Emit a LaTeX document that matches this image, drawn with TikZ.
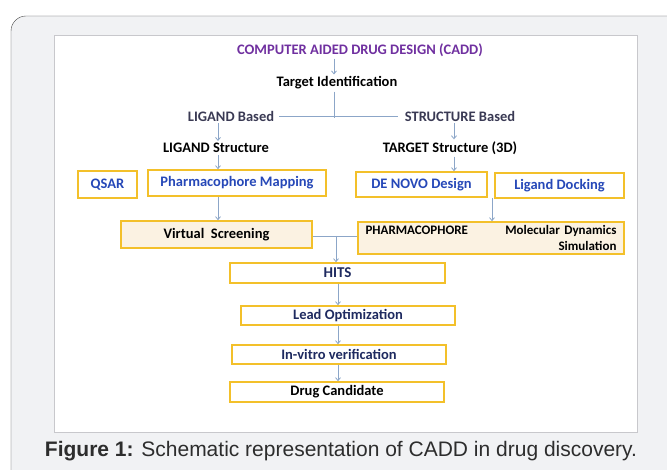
\documentclass[tikz,border=0pt]{standalone}
\usepackage{fontspec}
\setmainfont{Carlito}
\newfontfamily\capfont{Liberation Sans}
\usetikzlibrary{arrows.meta}

\definecolor{frameline}{RGB}{70,70,70}
\definecolor{framefill}{RGB}{241,242,244}
\definecolor{panelline}{RGB}{200,200,204}
\definecolor{titlepurple}{RGB}{112,48,160}
\definecolor{boxline}{RGB}{243,192,42}
\definecolor{boxfill}{RGB}{251,242,226}
\definecolor{link}{RGB}{140,166,200}
\definecolor{methodblue}{RGB}{38,72,184}
\definecolor{stepnavy}{RGB}{30,42,96}
\definecolor{basegray}{RGB}{58,58,84}
\definecolor{captext}{RGB}{45,45,45}

\tikzset{
	lbl/.style={font=\bfseries\fontsize{14.5}{16}\selectfont, inner sep=2pt},
	box/.style={draw=boxline, line width=1.6pt, fill=white, inner sep=0pt,
		font=\bfseries\fontsize{14.5}{16}\selectfont},
	arr/.style={draw=link, line width=0.8pt, -{Straight Barb[length=3pt,width=5pt]}},
	lnk/.style={draw=link, line width=0.8pt}
}

\begin{document}
\begin{tikzpicture}[x=1pt,y=-1pt]
	\useasboundingbox (0,0) rectangle (667,470);
	\draw[frameline, fill=framefill, rounded corners=15pt] (11,16) rectangle (700,520);
	\draw[panelline, fill=white] (54,35) rectangle (637,432);

	% axes the arrows run along
	\coordinate (split) at (334,118);
	\coordinate (lx) at (218,0);
	\coordinate (rx) at (454,0);
	\coordinate (dx) at (492,0);
	\coordinate (cx) at (338,0);

	\node[lbl, text=titlepurple] (cadd) at (360,50) {COMPUTER AIDED DRUG DESIGN (CADD)};
	\node[lbl] (ti) at (337,83) {Target Identification};
	\node[lbl, text=basegray] (lb) at (231,116) {LIGAND Based};
	\node[lbl, text=basegray] (sb) at (460,116) {STRUCTURE Based};
	\node[lbl] (ls) at (216,148) {LIGAND Structure};
	\node[lbl] (ts) at (450,148) {TARGET Structure (3D)};

	\node[box, text=methodblue, minimum width=59pt, minimum height=27pt] (qsar) at (107.5,184.5) {QSAR};
	\node[box, text=methodblue, minimum width=178pt, minimum height=26pt] (pmap) at (237,183) {Pharmacophore Mapping};
	\node[box, text=methodblue, minimum width=131pt, minimum height=25pt] (denovo) at (421.5,184.5) {DE NOVO Design};
	\node[box, text=methodblue, minimum width=129pt, minimum height=25pt] (dock) at (559.5,185.5) {Ligand Docking};

	\node[box, fill=boxfill, minimum width=191pt, minimum height=27pt] (vs) at (216.5,234.5) {Virtual\ \ Screening};
	\node[box, fill=boxfill, minimum width=266pt, minimum height=32pt, font=\bfseries\fontsize{13}{15.5}\selectfont,
		text width=251pt, align=left] (pharma) at (491,238)
		{PHARMACOPHORE\hfill Molecular Dynamics\\ \hfill Simulation\hspace*{9pt}};

	\node[box, text=stepnavy, minimum width=215pt, minimum height=20pt, font=\bfseries\fontsize{15}{16}\selectfont] (hits) at (337.5,273) {HITS};
	\node[box, text=stepnavy, minimum width=214pt, minimum height=19pt] (lead) at (348,315.5) {Lead Optimization};
	\node[box, text=stepnavy, minimum width=214pt, minimum height=19pt] (invitro) at (339,354.5) {In-vitro verification};
	\node[box, minimum width=214pt, minimum height=20pt] (drug) at (337,392) {Drug Candidate};

	\node[font=\capfont\fontsize{21}{24}\selectfont, text=captext] (caption) at (341,451)
		{\textbf{Figure 1:} Schematic representation of CADD in drug discovery.};

	\draw[arr] (cadd.south -| split) -- (ti.north -| split);
	\draw[lnk] (ti.south -| split) -- (split);
	\draw[lnk] ([xshift=3pt]lb.east) -- ([xshift=-5pt]sb.west);
	\draw[arr] (lb.south -| lx) -- (ls.north -| lx);
	\draw[arr] (sb.south -| rx) -- (ts.north -| rx);
	\draw[arr] (ls.south -| lx) -- (pmap.north -| lx);
	\draw[arr] (ts.south -| rx) -- (denovo.north -| rx);
	\draw[arr] (pmap.south -| lx) -- (vs.north -| lx);
	\draw[arr] (denovo.south -| dx) -- (pharma.north -| dx);

	\coordinate (join) at (336,236);
	\draw[lnk] (vs.east |- join) -- (pharma.west |- join);
	\draw[arr] (join) -- (hits.north -| join);
	\draw[arr] (hits.south -| cx) -- (lead.north -| cx);
	\draw[arr] (lead.south -| cx) -- (invitro.north -| cx);
	\draw[arr] (invitro.south -| cx) -- (drug.north -| cx);
\end{tikzpicture}
\end{document}
